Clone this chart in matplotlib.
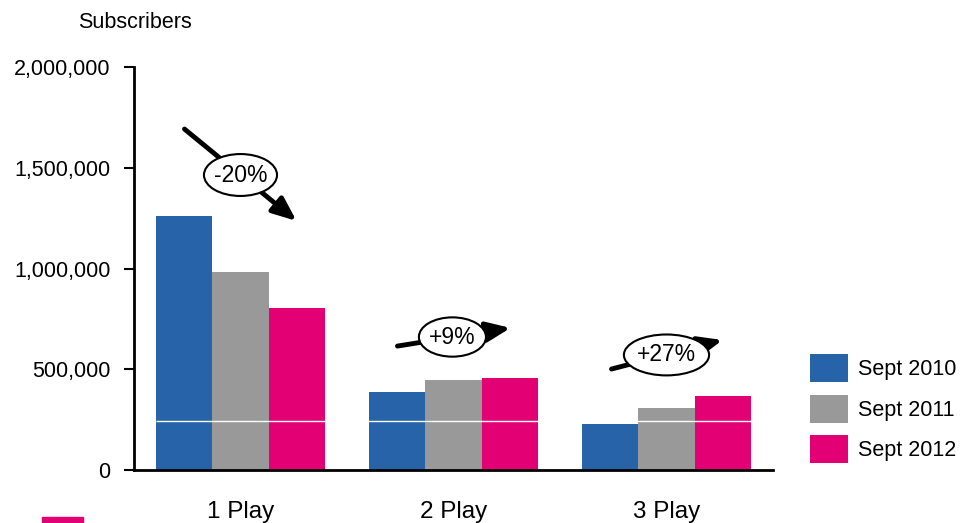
import matplotlib.pyplot as plt
import numpy as np
from matplotlib.patches import Ellipse, Rectangle
from matplotlib.ticker import FuncFormatter

plt.rcParams['font.family'] = ['Liberation Sans', 'DejaVu Sans']

categories = ['1 Play', '2 Play', '3 Play']
series = ['Sept 2010', 'Sept 2011', 'Sept 2012']
sept_2010 = [1260000, 387000, 228000]
sept_2011 = [983000, 447000, 308000]
sept_2012 = [804000, 457000, 367000]
changes = ['-20%', '+9%', '+27%']
colors = ['#2763a8', '#999999', '#e20074']

fig = plt.figure(figsize=(9.6, 5.23), dpi=100)
ax = fig.add_axes([134 / 960, 1 - 470 / 523, 639 / 960, 403 / 523])

x = np.arange(len(categories))
width = 0.263
for i, (vals, name) in enumerate(zip([sept_2010, sept_2011, sept_2012], series)):
    ax.bar(x + (i - 1) * width, vals, width, color=colors[i], label=name, zorder=2)

ax.hlines(243000, x[0] - 1.5 * width, x[-1] + 1.5 * width, color='white', lw=1, zorder=3)

ax.set_xlim(-0.5, 2.5)
ax.set_ylim(0, 2000000)
ax.set_yticks([0, 500000, 1000000, 1500000, 2000000])
ax.yaxis.set_major_formatter(FuncFormatter(lambda v, p: f'{int(v):,}'))
ax.set_xticks(x)
ax.set_xticklabels(categories, fontsize=17.5)
ax.tick_params(axis='x', length=0, pad=22)
ax.tick_params(axis='y', length=7, width=1.5, pad=10, labelsize=15.5)
for s in ['top', 'right']:
    ax.spines[s].set_visible(False)
for s in ['left', 'bottom']:
    ax.spines[s].set_linewidth(2)

# trend arrows with ellipse labels (start, tip, label centre, ellipse size)
arrows = [
    ((-0.263, 1692000), (0.263, 1236000), (0.0, 1464000), (0.343, 208000)),
    ((0.737, 615000), (1.268, 705000), (0.995, 660000), (0.315, 195000)),
    ((1.742, 501000), (2.263, 645000), (2.0, 571000), (0.40, 203000)),
]
for (start, tip, centre, size), label in zip(arrows, changes):
    ax.annotate('', xy=tip, xytext=start, zorder=4,
                arrowprops=dict(arrowstyle='-|>,head_length=0.6,head_width=0.25',
                                lw=3.5, color='black', mutation_scale=24,
                                shrinkA=0, shrinkB=0))
    ax.add_patch(Ellipse(centre, size[0], size[1], facecolor='white',
                         edgecolor='black', lw=1.5, zorder=5))
    ax.text(centre[0], centre[1], label, ha='center', va='center',
            fontsize=16.5, zorder=6)

fig.text(78 / 960, 1 - 22 / 523, 'Subscribers', fontsize=15.5, va='center')

fig.legend(loc='upper left', bbox_to_anchor=(810 / 960, 1 - 354 / 523),
           frameon=False, fontsize=15.5, handlelength=1.75, handleheight=1.63,
           handletextpad=0.5, labelspacing=0.58, borderpad=0, borderaxespad=0)

fig.patches.append(Rectangle((42 / 960, 0), 41 / 960, 6 / 523, color='#e20074',
                             transform=fig.transFigure, figure=fig))

fig.savefig('out.png', dpi=100)
